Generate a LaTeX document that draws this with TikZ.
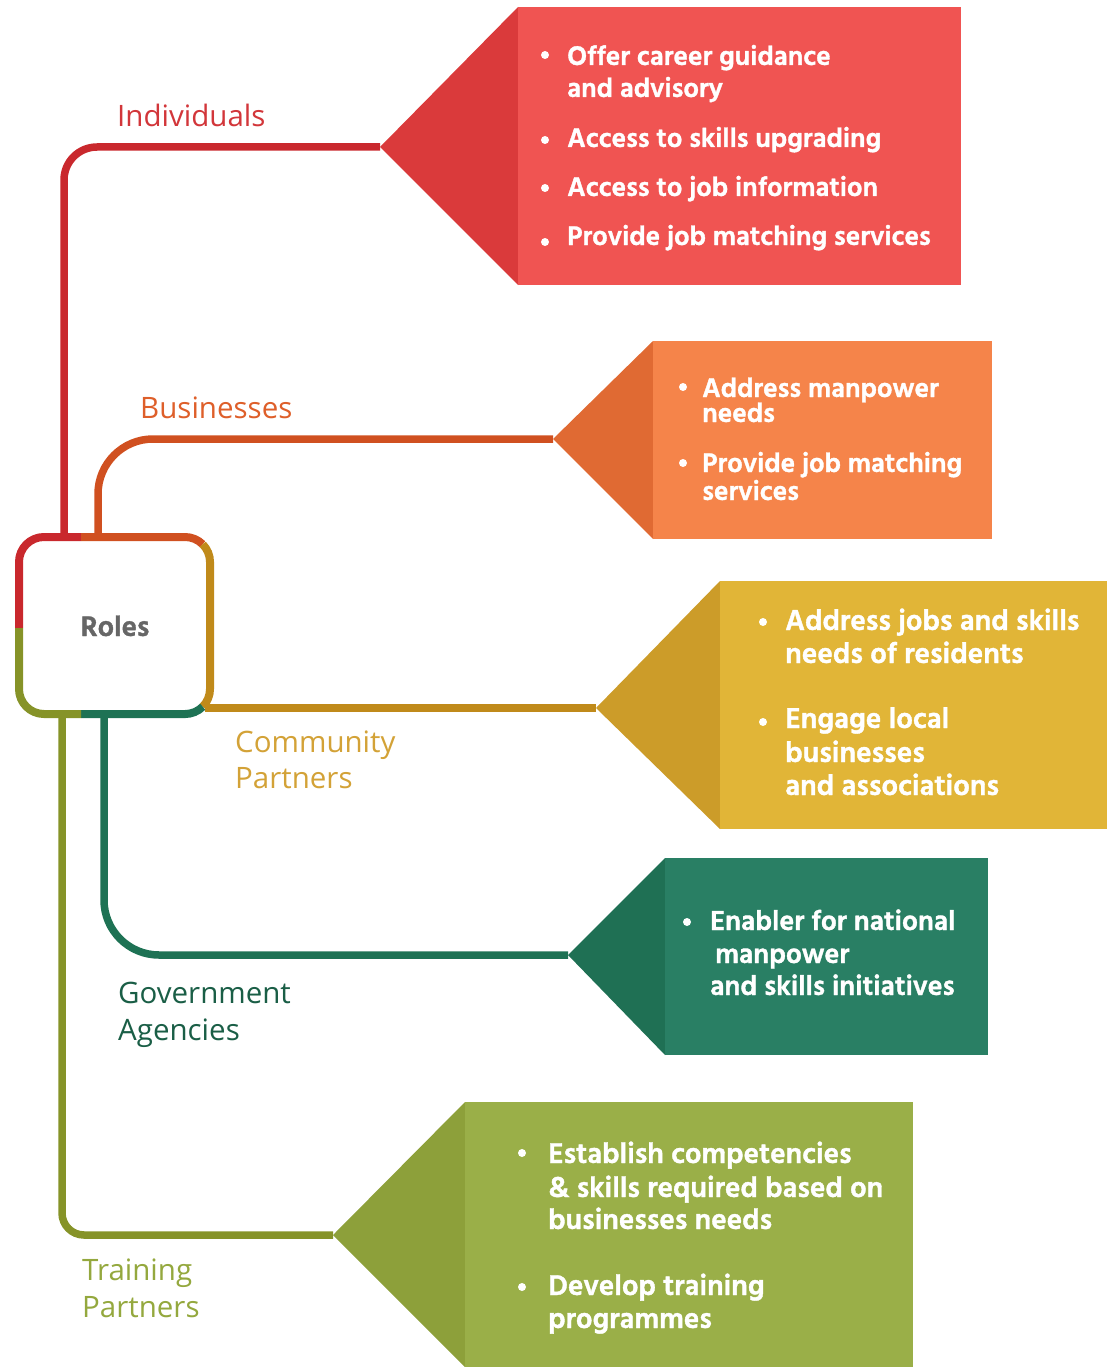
\documentclass[tikz,border=0pt]{standalone}
\usepackage{fontspec}
\newfontfamily\itemfont[BoldFeatures={FakeBold=1.3}]{Hind Madurai}
\newfontfamily\labelfont{Open Sans}

\definecolor{lnI}{HTML}{C9282D}
\definecolor{triI}{HTML}{DA3A3B}
\definecolor{boxI}{HTML}{F05452}
\definecolor{txtI}{HTML}{D2363A}
\definecolor{lnB}{HTML}{D05020}
\definecolor{triB}{HTML}{E06A33}
\definecolor{boxB}{HTML}{F5844A}
\definecolor{txtB}{HTML}{DE5F2A}
\definecolor{lnC}{HTML}{C08A1A}
\definecolor{triC}{HTML}{CC9C29}
\definecolor{boxC}{HTML}{E1B537}
\definecolor{txtC}{HTML}{D3A237}
\definecolor{lnG}{HTML}{1E7254}
\definecolor{triG}{HTML}{1F7054}
\definecolor{boxG}{HTML}{297F64}
\definecolor{txtG}{HTML}{1A5E46}
\definecolor{lnT}{HTML}{869328}
\definecolor{triT}{HTML}{8DA03A}
\definecolor{boxT}{HTML}{9AAF48}
\definecolor{txtT}{HTML}{94A83E}

\begin{document}
\begin{tikzpicture}[x=1pt, y=-1pt,
    branch/.style={line width=7.5},
    rim/.style={line width=8},
    itm/.style={anchor=base west, inner sep=0, text=white,
        font=\itemfont\bfseries\fontsize{#1}{30}\selectfont},
    itm/.default=27.5,
    dot/.style={circle, fill=white, inner sep=0, minimum size=8},
    lbl/.style={anchor=base west, inner sep=0,
        font=\labelfont\fontsize{29.5}{36}\selectfont}]
\useasboundingbox (0,0) rectangle (1107,1367);

\node[minimum width=191, minimum height=177] (roles) at (114.5,625.5) {};
\node[anchor=base, text=black!60, font=\itemfont\bfseries\fontsize{29}{32}\selectfont] (rolestxt) at (115,636) {Roles};

\coordinate (rI) at (64,537);
\coordinate (rB) at (98,537);
\coordinate (rC) at (205,708);
\coordinate (rG) at (104,714);
\coordinate (rT) at (62,714);

\coordinate (tipI) at (380,147);
\coordinate (tipB) at (553,439);
\coordinate (tipC) at (596,708);
\coordinate (tipG) at (568,955);
\coordinate (tipT) at (333,1235);

% branches
\draw[branch, lnI, rounded corners=33] (rI) |- (tipI);
\draw[branch, lnB, rounded corners=55] (rB) |- (tipB);
\draw[branch, lnC] (rC) -- (tipC);
\draw[branch, lnG, rounded corners=55] (rG) |- (tipG);
\draw[branch, lnT, rounded corners=22] (rT) |- (tipT);

% roles box
\draw[rim, lnI] (19,628) -- (19,562) arc[start angle=180, end angle=270, radius=25] -- (81,537);
\draw[rim, lnB] (81,537) -- (185,537) arc[start angle=270, end angle=315, radius=25];
\draw[rim, lnC] (202.7,544.3) arc[start angle=315, end angle=360, radius=25] -- (210,689) arc[start angle=0, end angle=45, radius=25];
\draw[rim, lnG] (202.7,706.7) arc[start angle=45, end angle=90, radius=25] -- (81,714);
\draw[rim, lnT] (81,714) -- (44,714) arc[start angle=90, end angle=180, radius=25] -- (19,628);

% pointers
\fill[triI] (tipI) -- (518,7) -- (518,285) -- cycle;
\fill[boxI] (518,7) rectangle (961,285);
\fill[triB] (tipB) -- (653,341) -- (653,539) -- cycle;
\fill[boxB] (653,341) rectangle (992,539);
\fill[triC] (tipC) -- (720,581) -- (720,829) -- cycle;
\fill[boxC] (720,581) rectangle (1107,829);
\fill[triG] (tipG) -- (665,858) -- (665,1055) -- cycle;
\fill[boxG] (665,858) rectangle (988,1055);
\fill[triT] (tipT) -- (465,1102) -- (465,1367) -- cycle;
\fill[boxT] (465,1102) rectangle (913,1367);

% labels
\node[lbl, text=txtI] (lI) at (117,127) {Individuals};
\node[lbl, text=txtB] (lB) at (140,418) {Businesses};
\node[lbl, text=txtC] (lC1) at (235,752) {Community};
\node[lbl, text=txtC] (lC2) at (235,788) {Partners};
\node[lbl, text=txtG] (lG1) at (118,1003) {Government};
\node[lbl, text=txtG] (lG2) at (118,1040) {Agencies};
\node[lbl, text=txtT] (lT1) at (82,1280) {Training};
\node[lbl, text=txtT] (lT2) at (82,1317) {Partners};

% bullet items
\foreach \t/\y [count=\i] in {Offer career guidance/65, and advisory/97,
    Access to skills upgrading/147, Access to job information/196,
    Provide job matching services/245}
    \node[itm] (iI\i) at (567,\y) {\t};
\foreach \y [count=\i] in {55,140,188,242}
    \node[dot] (dI\i) at (545,\y) {};

\foreach \t/\y [count=\i] in {Address manpower/397, needs/422,
    Provide job matching/472, services/500}
    \node[itm] (iB\i) at (702,\y) {\t};
\foreach \y [count=\i] in {387,463}
    \node[dot] (dB\i) at (683,\y) {};

\foreach \t/\y [count=\i] in {Address jobs and skills/630, needs of residents/663,
    Engage local/728, businesses/762, and associations/795}
    \node[itm=29.4] (iC\i) at (785,\y) {\t};
\foreach \y [count=\i] in {622,722}
    \node[dot] (dC\i) at (763,\y) {};

\node[itm=28.2] (iG1) at (710,930) {Enabler for national};
\node[itm=28.2] (iG2) at (715,963) {manpower};
\node[itm=28.2] (iG3) at (710,995) {and skills initiatives};
\node[dot] (dG1) at (687,922) {};

\foreach \t/\y [count=\i] in {Establish competencies/1163, \& skills required based on/1197,
    businesses needs/1229, Develop training/1295, programmes/1328}
    \node[itm=29.3] (iT\i) at (548,\y) {\t};
\foreach \y [count=\i] in {1153,1287}
    \node[dot] (dT\i) at (522,\y) {};

\end{tikzpicture}
\end{document}
